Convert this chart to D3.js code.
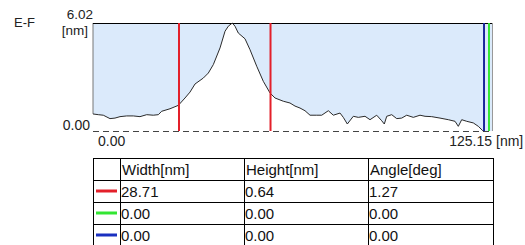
<!DOCTYPE html>
<html><head><meta charset="utf-8">
<script src="https://cdn.jsdelivr.net/npm/d3@7"></script>
<style>
html,body{margin:0;padding:0;background:#fff;}
svg{display:block;font-family:"Liberation Sans",Arial,sans-serif;}
</style></head>
<body>
<svg id="c" width="525" height="245"></svg>
<script>
// ---- data ----
const profileX = [0,1.66,3.23,5.33,6.90,8.47,10.57,12.64,14.74,16.84,18.91,20.48,21.55,24.15,26.76,28.86,30.43,32.0,34.60,36.17,37.74,39.84,41.41,42.44,43.70,44.54,45.58,47.68,49.25,51.35,53.42,55.52,57.09,59.69,61.79,63.36,64.93,66.50,68.07,70.17,71.74,73.81,75.38,77.48,78.51,79.77,81.65,83.22,85.32,86.89,88.99,90.56,91.37,92.13,93.70,95.26,96.83,98.40,100.47,102.57,104.14,106.24,108.84,111.45,113.55,114.58,115.65,117.22,119.29,120.86,122.24,122.65];
const profileY = [0.95,0.91,0.88,0.69,0.72,0.80,0.84,0.84,0.80,0.91,0.88,0.91,1.10,1.24,1.43,1.84,2.17,2.62,2.95,3.23,3.70,4.63,5.56,5.84,6.02,5.84,5.46,5.14,4.53,3.61,2.77,2.12,1.84,1.66,1.56,1.39,1.28,1.13,0.88,0.88,0.88,1.13,0.88,1.00,0.76,0.39,0.82,0.76,0.82,0.63,0.88,0.57,0.39,0.82,0.91,0.69,0.72,0.88,0.76,0.88,0.82,0.80,0.72,0.63,0.54,0.26,0.63,0.54,0.45,0.26,0.02,0.00];
const xMax = 125.15, yMax = 6.02;
const cursorX = [26.97, 55.68, 124.2, 122.65];
const cursorColor = ["#e3202a", "#e3202a", "#33e633", "#1a259a"];
const rowColors = ["#e3202a", "#33e633", "#1a30c0"];
const headers = ["Width[nm]", "Height[nm]", "Angle[deg]"];
const widths = ["28.71", "0.00", "0.00"];
const heights = ["0.64", "0.00", "0.00"];
const angles = ["1.27", "0.00", "0.00"];
const profileName = "E-F";
const unit = "[nm]";

// ---- layout ----
const L = 93, R = 492, T = 23, B = 131;
const svg = d3.select("#c");
const x = d3.scaleLinear().domain([0, xMax]).range([L, R]);
const y = d3.scaleLinear().domain([0, yMax]).range([B, T]);
const pts = profileX.map((v, i) => [v, profileY[i]]);

// blue background
svg.append("rect").attr("x", L).attr("y", T).attr("width", R - L).attr("height", B - T).attr("fill", "#dbeafb");
// white area under profile
svg.append("path").datum(pts)
  .attr("d", d3.area().x(d => x(d[0])).y0(y(0)).y1(d => y(d[1])))
  .attr("fill", "#fff");
// left axis line
svg.append("line").attr("x1", L).attr("x2", L).attr("y1", T).attr("y2", y(profileY[0]))
  .attr("stroke", "#777").attr("stroke-width", 1);
// right edge
svg.append("line").attr("x1", R + 0.5).attr("x2", R + 0.5).attr("y1", T).attr("y2", B)
  .attr("stroke", "#999").attr("stroke-width", 1);
// top border
svg.append("line").attr("x1", L).attr("x2", R).attr("y1", T + 0.5).attr("y2", T + 0.5)
  .attr("stroke", "#000").attr("stroke-width", 1);
// dashed baseline
svg.append("line").attr("x1", L).attr("x2", R).attr("y1", B + 0.5).attr("y2", B + 0.5)
  .attr("stroke", "#444").attr("stroke-width", 1).attr("stroke-dasharray", "6,4");
// profile line
svg.append("path").datum(pts)
  .attr("d", d3.line().x(d => x(d[0])).y(d => y(d[1])))
  .attr("fill", "none").attr("stroke", "#2a2a2a").attr("stroke-width", 1);
// cursors
svg.selectAll(".cur").data(cursorX).enter().append("line")
  .attr("x1", d => x(d)).attr("x2", d => x(d)).attr("y1", T).attr("y2", B)
  .attr("stroke", (d, i) => cursorColor[i]).attr("stroke-width", 2);

// labels
const txt = (t, xx, yy, anchor, size) => svg.append("text").text(t).attr("x", xx).attr("y", yy)
  .attr("text-anchor", anchor || "start").attr("font-size", size || 14).attr("fill", "#222");
txt(profileName, 14, 27, "start", 13);
txt(d3.format(".2f")(yMax), L, 19, "end", 13.5);
txt(unit, 88, 35, "end", 13.5);
txt(d3.format(".2f")(0), 90, 130, "end");
txt(d3.format(".2f")(0), 98, 146, "start");
txt(d3.format(".2f")(xMax), R, 146, "end");
txt(unit, 496, 146, "start");

// table
const colX = [93, 120, 244, 368, 493];
const rowY = [158, 180, 202, 224, 246];
const g = svg.append("g");
colX.forEach(cx => g.append("line").attr("x1", cx + 0.5).attr("x2", cx + 0.5).attr("y1", rowY[0]).attr("y2", rowY[4]).attr("stroke", "#000"));
rowY.forEach(ry => g.append("line").attr("x1", colX[0]).attr("x2", colX[4] + 1).attr("y1", ry + 0.5).attr("y2", ry + 0.5).attr("stroke", "#000"));
headers.forEach((h, j) => g.append("text").text(h).attr("x", colX[j + 1] + 2).attr("y", rowY[0] + 17).attr("font-size", 15).attr("fill", "#111"));
const cols = [widths, heights, angles];
rowColors.forEach((c, i) => {
  const ry = rowY[i + 1];
  g.append("line").attr("x1", 96).attr("x2", 117).attr("y1", ry + 11).attr("y2", ry + 11)
    .attr("stroke", c).attr("stroke-width", 3);
  cols.forEach((col, j) => g.append("text").text(col[i]).attr("x", colX[j + 1] + 1).attr("y", ry + 17)
    .attr("font-size", 15).attr("fill", "#111"));
});
</script>
</body></html>
